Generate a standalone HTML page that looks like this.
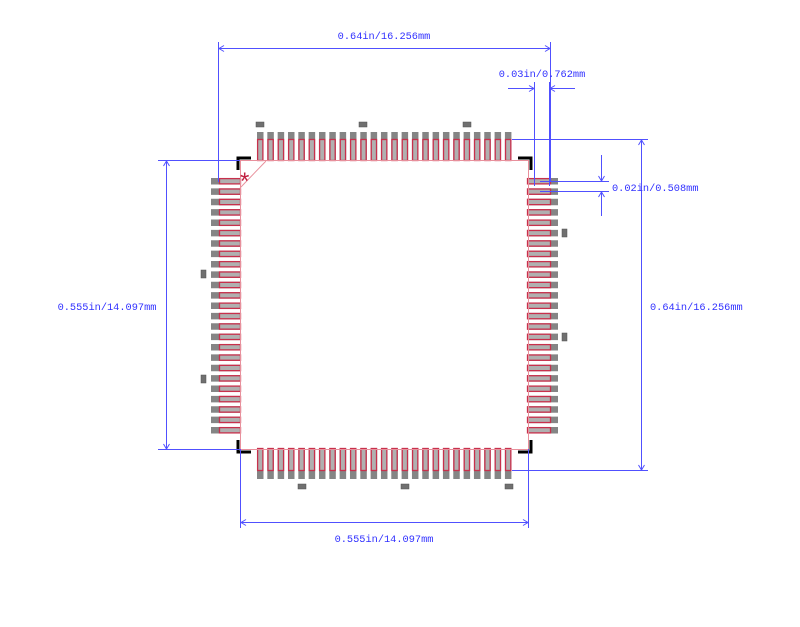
<!DOCTYPE html>
<html><head><style>
html,body{margin:0;padding:0;background:#fff;}
svg{display:block;}
text{font-family:"Liberation Mono","Noto Serif CJK SC",monospace;font-size:10.3px;fill:#3030ff;}
</style></head><body>
<svg id="s" width="800" height="627" viewBox="0 0 800 627" xmlns="http://www.w3.org/2000/svg">
<g id="pads"></g>
<g stroke="#e8909c" stroke-width="1" fill="none">
<rect x="240.5" y="160.5" width="288" height="289"/>
<line x1="240" y1="188" x2="266" y2="161"/>
</g>
<text x="240" y="189" style="fill:#c02040;font-size:24px;font-family:'Liberation Sans',sans-serif">*</text>
<g stroke="#000" stroke-width="3" fill="none">
<polyline points="238,170 238,158 251,158"/>
<polyline points="518,158 531,158 531,170"/>
<polyline points="238,440 238,452 251,452"/>
<polyline points="518,452 531,452 531,440"/>
</g>
<g fill="#707070" stroke="#505050" stroke-width="0.5">
<rect x="256" y="122" width="8" height="5"/><rect x="359" y="122" width="8" height="5"/><rect x="463" y="122" width="8" height="5"/>
<rect x="298" y="484" width="8" height="5"/><rect x="401" y="484" width="8" height="5"/><rect x="505" y="484" width="8" height="5"/>
<rect x="201" y="270" width="5" height="8"/><rect x="201" y="375" width="5" height="8"/>
<rect x="562" y="229" width="5" height="8"/><rect x="562" y="333" width="5" height="8"/>
</g>
<g stroke="#5050ff" stroke-width="1" fill="none">
<line x1="218.5" y1="42" x2="218.5" y2="182"/><line x1="550.5" y1="42" x2="550.5" y2="182"/>
<line x1="218" y1="48.5" x2="550" y2="48.5"/>
<line x1="534.5" y1="82" x2="534.5" y2="186"/><line x1="549.5" y1="82" x2="549.5" y2="186"/>
<line x1="508" y1="88.5" x2="534" y2="88.5"/><line x1="549" y1="88.5" x2="575" y2="88.5"/>
<line x1="540" y1="181.5" x2="609" y2="181.5"/><line x1="540" y1="191.5" x2="609" y2="191.5"/>
<line x1="601.5" y1="155" x2="601.5" y2="181"/><line x1="601.5" y1="191" x2="601.5" y2="216"/>
<line x1="512" y1="139.5" x2="648" y2="139.5"/><line x1="512" y1="470.5" x2="648" y2="470.5"/>
<line x1="641.5" y1="139" x2="641.5" y2="470"/>
<line x1="158" y1="160.5" x2="240" y2="160.5"/><line x1="158" y1="449.5" x2="240" y2="449.5"/>
<line x1="166.5" y1="160" x2="166.5" y2="449"/>
<line x1="240.5" y1="449" x2="240.5" y2="528"/><line x1="528.5" y1="449" x2="528.5" y2="528"/>
<line x1="240" y1="522.5" x2="528" y2="522.5"/>
</g>
<g fill="none" stroke="#5050ff" stroke-width="1">
<polyline points="224,45.5 219,48.5 224,51.5"/><polyline points="545,45.5 550,48.5 545,51.5"/>
<polyline points="529,85.5 534,88.5 529,91.5"/><polyline points="555,85.5 550,88.5 555,91.5"/>
<polyline points="598.5,176 601.5,181 604.5,176"/><polyline points="598.5,197 601.5,192 604.5,197"/>
<polyline points="638.5,145 641.5,140 644.5,145"/><polyline points="638.5,465 641.5,470 644.5,465"/>
<polyline points="163.5,166 166.5,161 169.5,166"/><polyline points="163.5,444 166.5,449 169.5,444"/>
<polyline points="246,519.5 241,522.5 246,525.5"/><polyline points="523,519.5 528,522.5 523,525.5"/>
</g>
<text x="384" y="39" text-anchor="middle">0.64in/16.256mm</text>
<text x="542" y="77" text-anchor="middle">0.03in/0.762mm</text>
<text x="612" y="191">0.02in/0.508mm</text>
<text x="650" y="310">0.64in/16.256mm</text>
<text x="107" y="310" text-anchor="middle">0.555in/14.097mm</text>
<text x="384" y="542" text-anchor="middle">0.555in/14.097mm</text>
</svg>
<script>
var g=document.getElementById('pads'),h='';
function r(x,y,w,hh,f,s){h+='<rect x="'+x+'" y="'+y+'" width="'+w+'" height="'+hh+'" fill="'+f+'"'+(s?' stroke="'+s+'" stroke-width="1.3"':'')+'/>';}
for(var i=0;i<25;i++){
 var x=257+i*10.33,y=178+i*10.375;
 r(x,132,6.5,29,'#858585');r(x+0.6,139.5,5.3,21,'#b0b0b0','#c8304c');
 r(x,448,6.5,31,'#858585');r(x+0.6,448.5,5.3,22,'#b0b0b0','#c8304c');
 r(211,y,30,6.5,'#858585');r(219.5,y+0.6,21,5.3,'#b0b0b0','#c8304c');
 r(527,y,31,6.5,'#858585');r(527.5,y+0.6,23,5.3,'#b0b0b0','#c8304c');
}
g.innerHTML=h;
</script>
</body></html>
